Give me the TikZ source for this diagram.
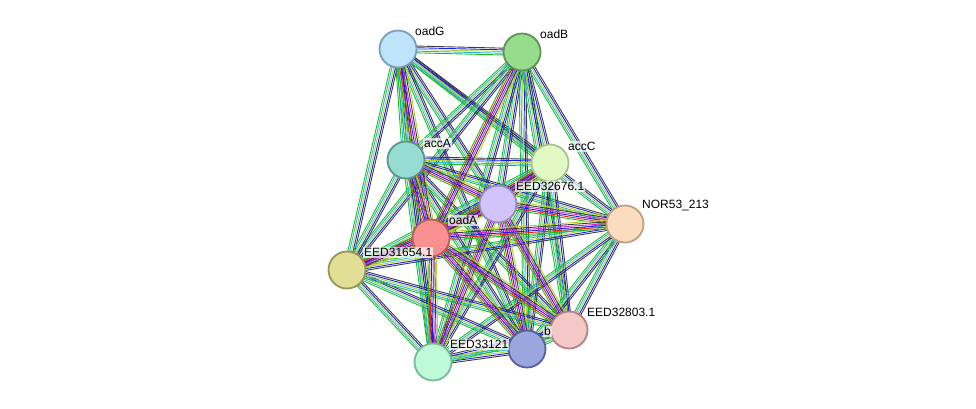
\documentclass[tikz,border=0pt]{standalone}
\usepackage{fontspec}
\setmainfont{Liberation Sans}
\usetikzlibrary{calc}
\definecolor{lgreen}{RGB}{30,190,30}
\definecolor{lcyan}{RGB}{40,180,220}
\definecolor{lyel}{RGB}{180,210,40}
\definecolor{lblue}{RGB}{20,30,240}
\definecolor{lmag}{RGB}{210,40,210}
\definecolor{lgray}{RGB}{60,60,60}
\definecolor{lred}{RGB}{240,30,30}
\newcommand{\linkset}[3]{%
  \foreach \c [count=\k] in {#3}{
    \pgfmathsetmacro{\o}{(\k-3)*1.7}
    \draw[\c, line width=0.9pt] ($(#1)!\o pt!90:(#2)$) -- ($(#2)!\o pt!-90:(#1)$);
  }}
\tikzset{prot/.style={circle, draw, line width=1.8pt, minimum size=37pt, inner sep=0pt},
  lab/.style={font=\fontsize{12}{14}\selectfont, inner sep=1pt, fill=white, fill opacity=0.7, text opacity=1}}
\begin{document}
\begin{tikzpicture}[x=1pt,y=-1pt]
\useasboundingbox (0,0) rectangle (976,408);
\coordinate (oadG) at (398,49);
\coordinate (oadB) at (522,52);
\coordinate (accA) at (406,160);
\coordinate (accC) at (550,163);
\coordinate (e676) at (498,204);
\coordinate (oadA) at (431,238);
\coordinate (nor) at (625,224);
\coordinate (e654) at (347,270);
\coordinate (e803) at (569,330);
\coordinate (bx) at (527,349);
\coordinate (e121) at (433,362);
% links
\foreach \a/\b in {oadG/oadB,oadG/accA,oadG/accC,oadG/e676,oadG/nor,oadG/e654,oadG/bx,oadG/e121,
  oadB/accA,oadB/accC,oadB/e676,oadB/nor,oadB/e654,oadB/bx,oadB/e121,oadB/e803,
  accA/accC,accA/nor,accA/e654,accA/bx,accA/e121,accA/e803,
  accC/e654,accC/bx,accC/e121,accC/e803,
  nor/e654,nor/bx,nor/e121,nor/e803,
  e654/bx,e654/e121,e654/e803,bx/e121,bx/e803,e121/e803}
  {\linkset{\a}{\b}{lgreen,lcyan,lyel,lblue,lgray}}
\foreach \a/\b in {oadG/oadA,oadB/oadA,accA/e676,accA/oadA,oadA/e676,oadA/e654,accC/e676,accC/oadA,
  e676/nor,e676/e654,e676/bx,e676/e121,e676/e803,oadA/nor,oadA/bx,oadA/e121,oadA/e803}
  {\linkset{\a}{\b}{lgreen,lred,lblue,lmag,lgray,lyel}}
% proteins
\node[prot, fill={rgb,255:red,190;green,228;blue,250}, draw={rgb,255:red,120;green,160;blue,190}] (n1) at (oadG) {};
\node[prot, fill={rgb,255:red,150;green,220;blue,140}, draw={rgb,255:red,90;green,150;blue,80}] (n2) at (oadB) {};
\node[prot, fill={rgb,255:red,150;green,220;blue,210}, draw={rgb,255:red,90;green,150;blue,140}] (n3) at (accA) {};
\node[prot, fill={rgb,255:red,225;green,250;blue,195}, draw={rgb,255:red,170;green,195;blue,140}] (n4) at (accC) {};
\node[prot, fill={rgb,255:red,210;green,195;blue,250}, draw={rgb,255:red,150;green,135;blue,195}] (n5) at (e676) {};
\node[prot, fill={rgb,255:red,250;green,145;blue,145}, draw={rgb,255:red,190;green,90;blue,90}] (n6) at (oadA) {};
\node[prot, fill={rgb,255:red,252;green,220;blue,190}, draw={rgb,255:red,190;green,160;blue,130}] (n7) at (nor) {};
\node[prot, fill={rgb,255:red,225;green,222;blue,150}, draw={rgb,255:red,150;green,150;blue,90}] (n8) at (e654) {};
\node[prot, fill={rgb,255:red,245;green,200;blue,200}, draw={rgb,255:red,180;green,130;blue,130}] (n9) at (e803) {};
\node[prot, fill={rgb,255:red,155;green,165;blue,222}, draw={rgb,255:red,85;green,95;blue,160}] (n10) at (bx) {};
\node[prot, fill={rgb,255:red,190;green,250;blue,215}, draw={rgb,255:red,120;green,185;blue,150}] (n11) at (e121) {};
% labels
\node[lab, anchor=south west] at (414,37) {oadG};
\node[lab, anchor=south west] at (539,40) {oadB};
\node[lab, anchor=south west] at (423,149) {accA};
\node[lab, anchor=south west] at (567,152) {accC};
\node[lab, anchor=south west] at (515,192) {EED32676.1};
\node[lab, anchor=south west] at (448,226) {oadA};
\node[lab, anchor=south west] at (641,212) {NOR53\_213};
\node[lab, anchor=south west] at (363,258) {EED31654.1};
\node[lab, anchor=south west] at (586,318) {EED32803.1};
\node[lab, anchor=south west] at (543,337) {b};
\node[lab, anchor=south west] at (449,350) {EED33121};
\end{tikzpicture}
\end{document}
